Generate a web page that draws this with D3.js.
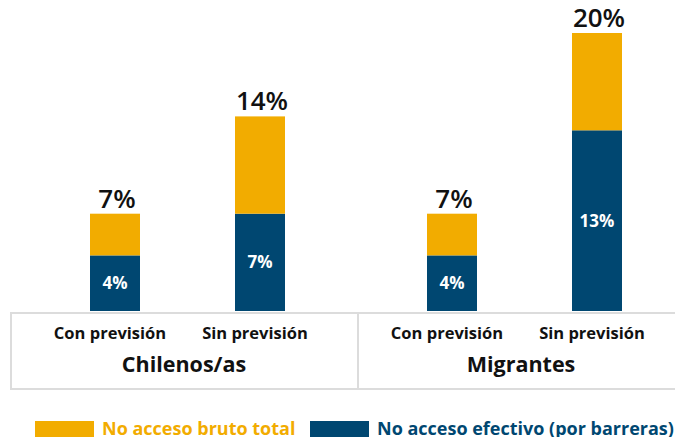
<!DOCTYPE html>
<html lang="es">
<head>
<meta charset="utf-8">
<script src="https://cdn.jsdelivr.net/npm/d3@7"></script>
<style>
  html, body { margin: 0; padding: 0; background: #fff; }
  svg { display: block; font-family: "Open Sans", "Noto Sans", sans-serif; }
</style>
</head>
<body>
<svg id="chart" width="675" height="437"></svg>
<script>
// Population groups and coverage categories
const groups = ["Chilenos/as", "Migrantes"];
const categories = ["Con previsión", "Sin previsión"];

// Share without access (%), one value per group × category
const brutoTotal = [7, 14, 7, 20];      // total gross non-access
const efectivo = [4, 7, 4, 13];         // effective non-access (barriers)

const seriesNames = ["No acceso bruto total", "No acceso efectivo (por barreras)"];
const colors = { bruto: "#F2AC00", efectivo: "#004771" };

const rows = [];
groups.forEach((g, gi) => categories.forEach((c, ci) => {
  const i = gi * categories.length + ci;
  rows.push({ group: g, gi, category: c, total: brutoTotal[i], efectivo: efectivo[i] });
}));

const svg = d3.select("#chart");

const baseY = 311, boxTop = 312, boxBottom = 390;
const barWidth = 50;

// Group cell edges along the category axis (second cell runs past the right edge)
const edge = d3.scaleLinear().domain([0, 1, 2]).range([10, 358, 684]);
const groupCenter = gi => (edge(gi) + edge(gi + 1)) / 2;
// Bar offsets inside a group, relative to the group centre
const cx = d3.scalePoint().domain(categories).range([-72.5, 72.5]);
const xCenter = d => groupCenter(d.gi) + cx(d.category) + 3.5;

const y = d3.scaleLinear().domain([0, 20]).range([baseY, 33]);

// Stacked bars: effective part at the bottom, remainder up to the gross total
const stack = d3.stack().keys(["efectivo", "resto"])(
  rows.map(d => ({ ...d, resto: d.total - d.efectivo }))
);

svg.append("g").selectAll("g")
  .data(stack)
  .join("g")
  .attr("fill", s => s.key === "efectivo" ? colors.efectivo : colors.bruto)
  .selectAll("rect")
  .data(s => s)
  .join("rect")
  .attr("x", d => xCenter(d.data) - barWidth / 2)
  .attr("width", barWidth)
  .attr("y", d => y(d[1]))
  .attr("height", d => y(d[0]) - y(d[1]));

// Total labels above each bar
svg.append("g").selectAll("text")
  .data(rows)
  .join("text")
  .attr("x", d => xCenter(d) + 2)
  .attr("y", d => y(d.total) - 6)
  .attr("text-anchor", "middle")
  .attr("font-size", 26)
  .attr("font-weight", 600)
  .attr("fill", "#111")
  .text(d => d.total + "%");

// Effective labels inside the blue segment
svg.append("g").selectAll("text")
  .data(rows)
  .join("text")
  .attr("x", d => xCenter(d))
  .attr("y", d => (y(d.efectivo) + y(0)) / 2)
  .attr("dy", "0.35em")
  .attr("text-anchor", "middle")
  .attr("font-size", 17)
  .attr("font-weight", 700)
  .attr("fill", "#fff")
  .text(d => d.efectivo + "%");

// Category axis box with group divider
const axis = svg.append("g");
axis.append("rect")
  .attr("x", edge(0) + 1)
  .attr("y", boxTop + 1)
  .attr("width", edge(groups.length) - edge(0))
  .attr("height", boxBottom - boxTop - 2)
  .attr("fill", "none")
  .attr("stroke", "#dcdcdc")
  .attr("stroke-width", 2);

axis.selectAll("line.divider")
  .data(d3.range(1, groups.length))
  .join("line")
  .attr("class", "divider")
  .attr("x1", i => edge(i)).attr("x2", i => edge(i))
  .attr("y1", boxTop).attr("y2", boxBottom)
  .attr("stroke", "#dcdcdc")
  .attr("stroke-width", 2);

axis.selectAll("text.cat")
  .data(rows)
  .join("text")
  .attr("class", "cat")
  .attr("x", d => xCenter(d) - 5)
  .attr("y", 339)
  .attr("text-anchor", "middle")
  .attr("font-size", 16.5)
  .attr("font-weight", 700)
  .attr("fill", "#111")
  .text(d => d.category);

axis.selectAll("text.grp")
  .data(groups)
  .join("text")
  .attr("class", "grp")
  .attr("x", (g, i) => groupCenter(i))
  .attr("y", 372)
  .attr("text-anchor", "middle")
  .attr("font-size", 21.5)
  .attr("font-weight", 700)
  .attr("fill", "#111")
  .text(g => g);

// Legend
const legend = svg.append("g");
const legendItems = [
  { name: seriesNames[0], color: colors.bruto, x: 35 },
  { name: seriesNames[1], color: colors.efectivo, x: 310 }
];
const li = legend.selectAll("g").data(legendItems).join("g")
  .attr("transform", d => `translate(${d.x},421)`);
li.append("rect").attr("width", 59).attr("height", 18).attr("fill", d => d.color);
li.append("text")
  .attr("x", 67)
  .attr("y", 14)
  .attr("font-size", 18)
  .attr("font-weight", 700)
  .attr("fill", d => d.color)
  .text(d => d.name);
</script>
</body>
</html>
